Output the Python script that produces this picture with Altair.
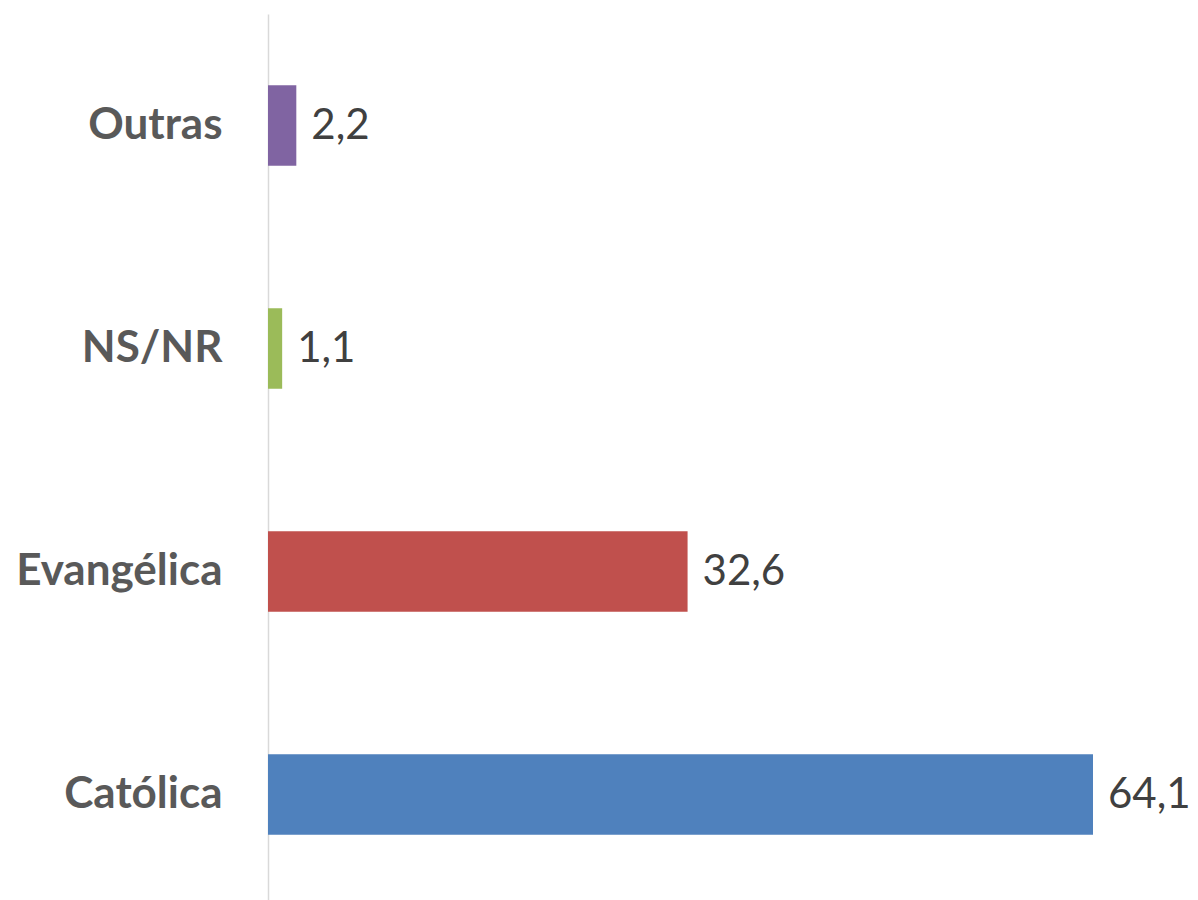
import altair as alt
import pandas as pd

categories = ["Outras", "NS/NR", "Evangélica", "Católica"]
values = [2.2, 1.1, 32.6, 64.1]
labels = ["2,2", "1,1", "32,6", "64,1"]
colors = ["#8064A2", "#9BBB59", "#C0504D", "#4F81BD"]

df = pd.DataFrame({"cat": categories, "val": values, "lab": labels})

FONT = "Lato"

y_enc = alt.Y(
    "cat:N",
    sort=categories,
    scale=alt.Scale(paddingInner=0.64, paddingOuter=0.32),
    axis=alt.Axis(
        title=None,
        ticks=False,
        domainColor="#D9D9D9",
        domainWidth=1.5,
        labelFontSize=44,
        labelFont=FONT,
        labelFontWeight="bold",
        labelColor="#595959",
        labelPadding=46,
        labelLimit=1000,
    ),
)
x_enc = alt.X("val:Q", scale=alt.Scale(domain=[0, 64.1], nice=False, zero=True), axis=None)

bars = alt.Chart(df).mark_bar().encode(
    x=x_enc,
    y=y_enc,
    color=alt.Color("cat:N", scale=alt.Scale(domain=categories, range=colors), legend=None),
)

text = alt.Chart(df).mark_text(
    align="left", baseline="middle", dx=15, fontSize=42, font=FONT, color="#404040"
).encode(x=x_enc, y=y_enc, text="lab:N")

chart = (
    alt.layer(bars, text)
    .properties(
        width=825,
        height=892,
        autosize=alt.AutoSizeParams(type="none"),
        padding={"left": 260, "top": 6, "right": 97, "bottom": 0},
    )
    .configure_view(stroke=None)
)

chart.save("out.html", embed_options={"renderer": "svg", "actions": False})
